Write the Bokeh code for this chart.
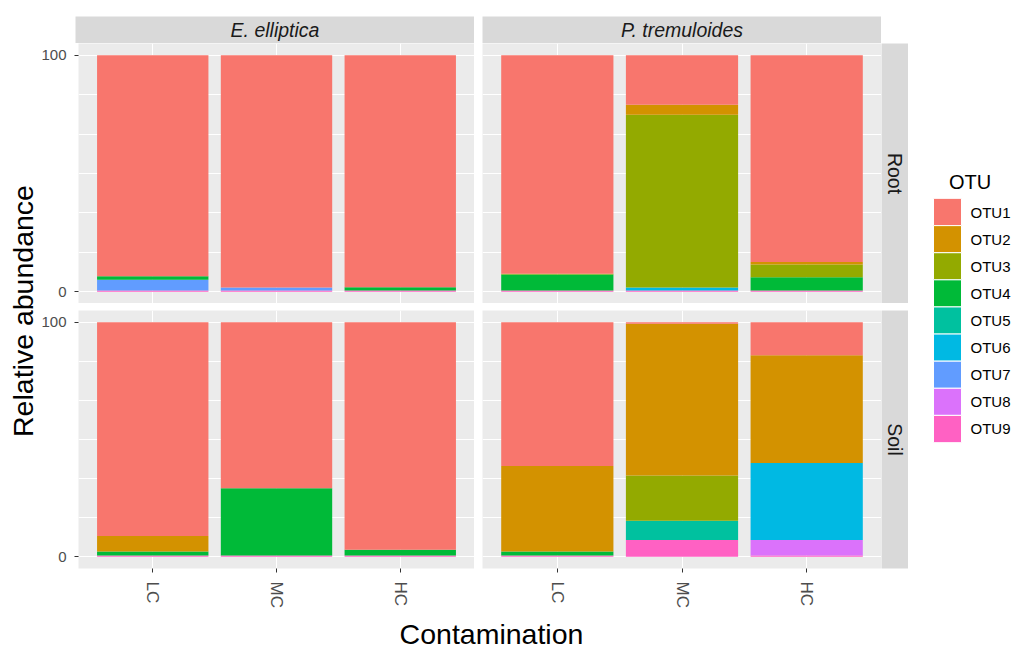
import math
from bokeh.plotting import figure
from bokeh.layouts import row, column
from bokeh.models import ColumnDataSource, FactorRange, Range1d, FixedTicker
from bokeh.core.properties import value
from bokeh.embed import file_html
from bokeh.resources import INLINE

# ---------------- data ----------------
contamination = ["LC", "MC", "HC"]
otus = ["OTU1", "OTU2", "OTU3", "OTU4", "OTU5", "OTU6", "OTU7", "OTU8", "OTU9"]
otu_colors = ["#F8766D", "#D39200", "#93AA00", "#00BA38", "#00C19F",
              "#00B9E3", "#619CFF", "#DB72FB", "#FF61C3"]
y_ticks = [0, 100]
y_grid = [0, 16.67, 33.33, 50, 66.67, 83.33, 100]

# relative abundance per OTU for LC, MC, HC
ee_root = {
    "OTU1": [93.5, 98.2, 98.1], "OTU2": [0, 0, 0], "OTU3": [0, 0, 0],
    "OTU4": [1.5, 0, 1.4], "OTU5": [0, 0, 0], "OTU6": [0, 0, 0],
    "OTU7": [4.5, 1.3, 0], "OTU8": [0, 0, 0], "OTU9": [0.5, 0.5, 0.5],
}
pt_root = {
    "OTU1": [92.4, 20.9, 87.4], "OTU2": [0, 4.2, 1.1], "OTU3": [0.3, 73.1, 5.4],
    "OTU4": [6.8, 0, 5.6], "OTU5": [0, 0, 0], "OTU6": [0, 1.3, 0],
    "OTU7": [0, 0, 0], "OTU8": [0, 0, 0], "OTU9": [0.5, 0.5, 0.5],
}
ee_soil = {
    "OTU1": [91.1, 70.8, 97.0], "OTU2": [6.6, 0, 0], "OTU3": [0, 0, 0],
    "OTU4": [1.8, 28.7, 2.5], "OTU5": [0, 0, 0], "OTU6": [0, 0, 0],
    "OTU7": [0, 0, 0], "OTU8": [0, 0, 0], "OTU9": [0.5, 0.5, 0.5],
}
pt_soil = {
    "OTU1": [61.3, 0.6, 14.1], "OTU2": [36.4, 64.8, 45.9], "OTU3": [0, 19.2, 0],
    "OTU4": [1.8, 0, 0], "OTU5": [0, 8.3, 0], "OTU6": [0, 0, 32.9],
    "OTU7": [0, 0, 0], "OTU8": [0, 0, 6.6], "OTU9": [0.5, 7.1, 0.5],
}

# ---------------- style / layout ----------------
FONT = "Liberation Sans"
PANEL_BG = "#EBEBEB"
STRIP_BG = "#D9D9D9"
FRAME_W, FRAME_H = 399, 260
LEFT_B, GAP_X, GAP_Y, BOTTOM_B = 37, 8, 7, 40
STRIP, TOP_PAD = 27, 16
TITLE_W, LEGEND_W, TOTAL_H = 38, 108, 650
XTITLE_H = TOTAL_H - (TOP_PAD + STRIP) - FRAME_H - (GAP_Y + FRAME_H + BOTTOM_B)


def base_fig(width, height, left=0, right=0, top=0, bottom=0, **kw):
    p = figure(width=width, height=height, title=None,
               output_backend="svg", toolbar_location=None,
               min_border_left=left, min_border_right=right,
               min_border_top=top, min_border_bottom=bottom,
               outline_line_color=None, border_fill_color="white", **kw)
    return p


def panel(data, show_x, show_y, top, left):
    bottom = BOTTOM_B if show_x else 0
    p = base_fig(left + FRAME_W, top + FRAME_H + bottom, left=left, top=top, bottom=bottom,
                 x_range=FactorRange(factors=contamination, range_padding=0.1,
                                     range_padding_units="absolute"),
                 y_range=Range1d(-5, 105),
                 x_axis_location="below" if show_x else None,
                 y_axis_location="left" if show_y else None,
                 background_fill_color=PANEL_BG)
    src = ColumnDataSource(dict(cat=contamination, **data))
    order = otus[::-1]
    cols = otu_colors[::-1]
    p.vbar_stack(order, x="cat", width=0.9, fill_color=cols, line_color=None, source=src)
    p.xgrid.grid_line_color = "white"
    p.xgrid.grid_line_width = 1
    p.ygrid.ticker = FixedTicker(ticks=y_grid)
    p.ygrid.grid_line_color = "white"
    p.ygrid.grid_line_width = 1
    if show_y:
        ax = p.yaxis[0]
        ax.ticker = FixedTicker(ticks=y_ticks)
        ax.axis_line_color = None
        ax.major_tick_line_color = "#333333"
        ax.major_tick_out = 4
        ax.major_tick_in = 0
        ax.minor_tick_line_color = None
        ax.major_label_text_font = FONT
        ax.major_label_text_font_size = "15px"
        ax.major_label_text_color = "#4D4D4D"
        ax.major_label_standoff = 8
    if show_x:
        ax = p.xaxis[0]
        ax.axis_line_color = None
        ax.major_tick_line_color = "#333333"
        ax.major_tick_out = 4
        ax.major_tick_in = 0
        ax.major_label_orientation = -math.pi / 2
        ax.major_label_text_font = FONT
        ax.major_label_text_font_size = "17px"
        ax.major_label_text_color = "#4D4D4D"
        ax.major_label_standoff = 9
    return p


def strip(label, fw, fh, left=0, top=0, bottom=0, vertical=False):
    p = base_fig(left + fw, top + fh + bottom, left=left, top=top, bottom=bottom,
                 x_range=Range1d(0, 1), y_range=Range1d(0, 1),
                 x_axis_location=None, y_axis_location=None,
                 background_fill_color=STRIP_BG)
    p.grid.visible = False
    p.text(x=[0.5], y=[0.5], text=[label], angle=-math.pi / 2 if vertical else 0,
           text_align="center", text_baseline="middle",
           text_font=value(FONT), text_font_size="19.5px",
           text_font_style="normal" if vertical else "italic",
           text_color="#1A1A1A")
    return p


def text_fig(w, h, x, y, label, size, angle=0):
    p = base_fig(w, h, x_range=Range1d(0, w), y_range=Range1d(0, h),
                 x_axis_location=None, y_axis_location=None,
                 background_fill_color="white")
    p.grid.visible = False
    p.text(x=[x], y=[y], text=[label], angle=angle, text_align="center",
           text_baseline="middle", text_font=value(FONT), text_font_size=size,
           text_color="black")
    return p


# panels
p_ee_root = panel(ee_root, False, True, 0, LEFT_B)
p_pt_root = panel(pt_root, False, False, 0, GAP_X)
p_ee_soil = panel(ee_soil, True, True, GAP_Y, LEFT_B)
p_pt_soil = panel(pt_soil, True, False, GAP_Y, GAP_X)

# strips
s_ee = strip("E. elliptica", FRAME_W, STRIP, left=LEFT_B, top=TOP_PAD)
s_pt = strip("P. tremuloides", FRAME_W, STRIP, left=GAP_X, top=TOP_PAD)
s_root = strip("Root", STRIP, FRAME_H, vertical=True)
s_soil = strip("Soil", STRIP, FRAME_H, top=GAP_Y, bottom=BOTTOM_B, vertical=True)

# axis titles
center_w = LEFT_B + FRAME_W + GAP_X + FRAME_W + STRIP
y_title = text_fig(TITLE_W, TOTAL_H, 22.5, TOTAL_H - 310.5, "Relative abundance",
                   "28.5px", angle=math.pi / 2)
x_title = text_fig(center_w, XTITLE_H, 453, 17, "Contamination", "28.5px")

# legend
LEG_TOP = 198
LEG_H = 244
leg_title = text_fig(LEGEND_W, LEG_TOP, 61.5, 17, "OTU", "20px")
leg = base_fig(LEGEND_W, TOTAL_H - LEG_TOP, bottom=TOTAL_H - LEG_TOP - LEG_H,
               x_range=Range1d(0, LEGEND_W), y_range=FactorRange(factors=otus[::-1]),
               x_axis_location=None, y_axis_location=None,
               background_fill_color="white")
leg.grid.visible = False
leg_src = ColumnDataSource(dict(otu=otus, color=otu_colors))
leg.rect(x=39, y="otu", width=28, height=1, fill_color="color",
         line_color="white", line_width=1, source=leg_src)
leg.text(x=62, y="otu", text="otu", text_align="left", text_baseline="middle",
         text_font=value(FONT), text_font_size="15px", text_color="black",
         source=leg_src)

center = column(
    row(s_ee, s_pt),
    row(p_ee_root, p_pt_root, s_root),
    row(p_ee_soil, p_pt_soil, s_soil),
    x_title,
)
layout = row(y_title, center, column(leg_title, leg))

open("out.html", "w").write(file_html(layout, INLINE))
